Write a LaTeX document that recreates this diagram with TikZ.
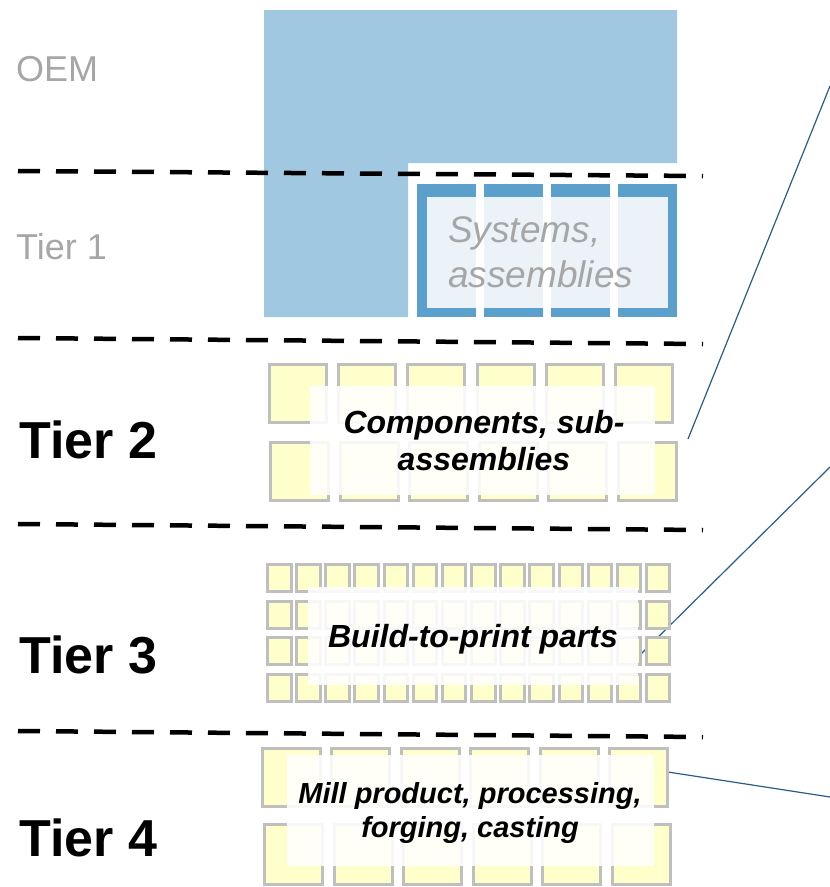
\documentclass[tikz,border=0pt]{standalone}
\usepackage{fontspec}
\setmainfont{Liberation Sans}
\usepackage{xcolor}
\usepackage{tikz}
\definecolor{OemBlue}{HTML}{A0C8E0}
\definecolor{SysBlue}{HTML}{5BA0CC}
\definecolor{CellYellow}{HTML}{FFFFCC}
\definecolor{CellGray}{HTML}{BFBFBF}
\definecolor{TierGray}{HTML}{A6A6A6}
\definecolor{LeadBlue}{HTML}{2A5C8A}

\begin{document}
\begin{tikzpicture}[x=1pt,y=-1pt,
  tier/.style={font=\fontsize{36}{40}\selectfont,text=TierGray,anchor=base west,inner sep=0pt},
  tierb/.style={font=\fontsize{52}{56}\selectfont\bfseries,anchor=base west,inner sep=0pt},
  cell/.style={draw=CellGray,line width=3pt,fill=CellYellow},
  veil/.style={fill=white,fill opacity=0.88},
  lbl/.style={align=center,anchor=base,inner sep=0pt},
  sep/.style={line width=4.5pt,dash pattern=on 22pt off 16pt},
  lead/.style={LeadBlue,line width=1.2pt}]
  \useasboundingbox (0,0) rectangle (830,887);

  \node[tier] (oem) at (16,81) {OEM};
  \node[tier] (t1) at (16,259) {Tier 1};
  \node[tierb] (t2) at (19,458) {Tier 2};
  \node[tierb] (t3) at (19,673) {Tier 3};
  \node[tierb] (t4) at (19,856) {Tier 4};

  \fill[OemBlue] (264,10) -- (677,10) -- (677,163) -- (408,163) -- (408,317) -- (264,317) -- cycle;
  \foreach \i in {0,...,3}
    \fill[SysBlue] ({417+67*\i},184) rectangle +(59,133);
  \fill[veil] (427,197) rectangle (668,308);
  \node[font=\fontsize{37}{45}\selectfont\itshape,text=TierGray,align=left,
        anchor=base west,inner sep=0pt] (sys) at (448,287) {Systems,\\assemblies};

  \coordinate (c2) at (688,439);  \coordinate (c2o) at (830,86);
  \coordinate (c3) at (641,654);  \coordinate (c3o) at (830,467);
  \coordinate (c4) at (668,772);  \coordinate (c4o) at (830,797);
  \draw[lead] (c2)--(c2o); \draw[lead] (c3)--(c3o); \draw[lead] (c4)--(c4o);

  \foreach \i in {0,...,5} {
    \draw[cell] ({269.5+69.2*\i},364.5) rectangle +(57,58);
    \draw[cell] ({270.5+69.6*\i},442.5) rectangle +(58,58);
  }
  \fill[veil] (310,386) rectangle (655,495);
  \node[lbl,font=\fontsize{32}{37}\selectfont\bfseries\itshape] (comp) at (484,470) {Components, sub-\\assemblies};

  \foreach \i in {0,...,13}
    \foreach \j in {0,...,3}
      \draw[cell] ({267.5+29.15*\i},{564.5+36.7*\j}) rectangle +(23.5,27);
  \fill[veil] (308,587) rectangle (638,685);
  \node[lbl,font=\fontsize{32}{37}\selectfont\bfseries\itshape] (btp) at (473,647) {Build-to-print parts};

  \foreach \i in {0,...,5} {
    \draw[cell] ({262.5+69.4*\i},748.5) rectangle +(58,58);
    \draw[cell] ({264.5+69.6*\i},824.5) rectangle +(58,60);
  }
  \fill[veil] (287,755) rectangle (654,866);
  \node[lbl,font=\fontsize{29}{34}\selectfont\bfseries\itshape] (mill) at (470,837) {Mill product, processing,\\forging, casting};

  \draw[sep] (18,171) -- (703,176);
  \draw[sep] (18,338) -- (703,344);
  \draw[sep] (18,524) -- (703,530);
  \draw[sep] (18,731) -- (703,737);
\end{tikzpicture}
\end{document}
